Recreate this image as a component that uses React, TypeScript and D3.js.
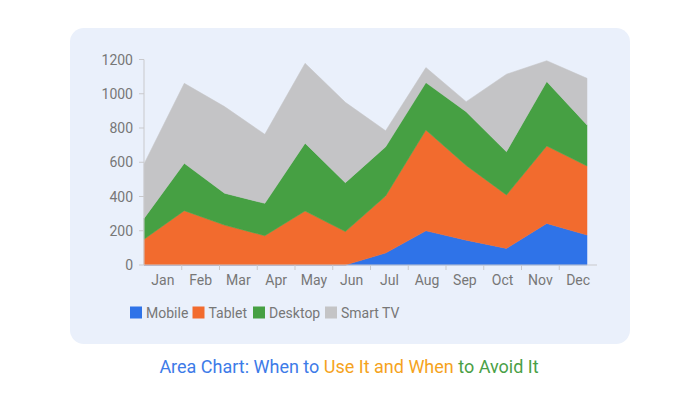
import React, { useEffect, useRef } from 'react'
import * as d3 from 'd3'

const months = ['Jan', 'Feb', 'Mar', 'Apr', 'May', 'Jun', 'Jul', 'Aug', 'Sep', 'Oct', 'Nov', 'Dec']
const mobile = [0, 0, 0, 0, 0, 0, 70, 200, 145, 97, 243, 175]
const tablet = [150, 317, 233, 171, 315, 195, 333, 588, 436, 312, 452, 403]
const desktop = [122, 277, 186, 189, 396, 286, 287, 277, 314, 253, 376, 240]
const smartTv = [318, 467, 506, 403, 467, 469, 94, 88, 59, 452, 122, 272]
const seriesNames = ['Mobile', 'Tablet', 'Desktop', 'Smart TV']
const yTicks = [0, 200, 400, 600, 800, 1000, 1200]

const colors = ['#2f73e8', '#f26b2e', '#46a043', '#c4c4c6']

function App () {
  const ref = useRef<SVGSVGElement>(null)

  useEffect(() => {
    const svg = d3.select(ref.current)
    svg.selectAll('*').remove()

    // card background
    svg.append('rect')
      .attr('x', 70).attr('y', 28)
      .attr('width', 560).attr('height', 316)
      .attr('rx', 14)
      .attr('fill', '#eaf0fb')

    const left = 144
    const right = 597
    const top = 59.5
    const bottom = 265

    const rows = months.map((m, i) => ({
      month: m,
      Mobile: mobile[i],
      Tablet: tablet[i],
      Desktop: desktop[i],
      'Smart TV': smartTv[i]
    }))

    const stacked = d3.stack<any>().keys(seriesNames)(rows)

    // data points run from the left edge to the last band's centre
    const x = d3.scalePoint<string>().domain(months).range([left, 587])
    const xBand = d3.scaleBand<string>().domain(months).range([left, right])
    const y = d3.scaleLinear().domain([0, 1200]).range([bottom, top])

    const area = d3.area<any>()
      .x(d => x(d.data.month) as number)
      .y0(d => y(d[0]))
      .y1(d => y(d[1]))

    svg.append('g')
      .selectAll('path')
      .data(stacked)
      .enter()
      .append('path')
      .attr('d', d => area(d) as string)
      .attr('fill', (d, i) => colors[i])
      .attr('stroke', (d, i) => colors[i])
      .attr('stroke-width', 0.5)
      .attr('stroke-linejoin', 'round')

    const font = 'Roboto, sans-serif'
    const grey = '#777'
    const axisColor = '#c9c9cc'

    // Y axis
    const yAxis = svg.append('g')
    yAxis.append('line')
      .attr('x1', left).attr('x2', left)
      .attr('y1', top).attr('y2', bottom)
      .attr('stroke', axisColor)
    yAxis.selectAll('g.t')
      .data(yTicks)
      .enter()
      .append('g')
      .each(function (v) {
        const g = d3.select(this)
        g.append('line')
          .attr('x1', left - 5).attr('x2', left)
          .attr('y1', y(v)).attr('y2', y(v))
          .attr('stroke', axisColor)
        g.append('text')
          .attr('x', 133).attr('y', y(v) + 5)
          .attr('text-anchor', 'end')
          .attr('font-family', font)
          .attr('font-size', 14)
          .attr('fill', grey)
          .text(v)
      })

    // X axis
    const xAxis = svg.append('g')
    xAxis.append('line')
      .attr('x1', left).attr('x2', right)
      .attr('y1', bottom).attr('y2', bottom)
      .attr('stroke', axisColor)
    months.forEach((m, i) => {
      const bx = xBand(m) as number
      if (i > 0) {
        xAxis.append('line')
          .attr('x1', bx).attr('x2', bx)
          .attr('y1', bottom).attr('y2', bottom + 5)
          .attr('stroke', axisColor)
      }
      xAxis.append('text')
        .attr('x', bx + xBand.bandwidth() / 2)
        .attr('y', 285)
        .attr('text-anchor', 'middle')
        .attr('font-family', font)
        .attr('font-size', 14)
        .attr('fill', grey)
        .text(m)
    })

    // legend
    const legendX = [130, 192.5, 253, 325]
    const legend = svg.append('g')
    seriesNames.forEach((name, i) => {
      legend.append('rect')
        .attr('x', legendX[i]).attr('y', 306.5)
        .attr('width', 12).attr('height', 12)
        .attr('fill', colors[i])
      legend.append('text')
        .attr('x', legendX[i] + 16).attr('y', 318)
        .attr('font-family', font)
        .attr('font-size', 14)
        .attr('fill', grey)
        .text(name)
    })

    // title
    const title = svg.append('text')
      .attr('x', 349).attr('y', 373)
      .attr('text-anchor', 'middle')
      .attr('font-family', font)
      .attr('font-size', 18)
    title.append('tspan').attr('fill', '#3d7be8').text('Area Chart: When to ')
    title.append('tspan').attr('fill', '#f5a31d').text('Use It and When ')
    title.append('tspan').attr('fill', '#4aa046').text('to Avoid It')
  }, [])

  return (
    <svg
      ref={ref}
      width={698}
      height={400}
      style={{ position: 'absolute', left: 0, top: 0, background: '#fff' }}
    />
  )
}

export default App
